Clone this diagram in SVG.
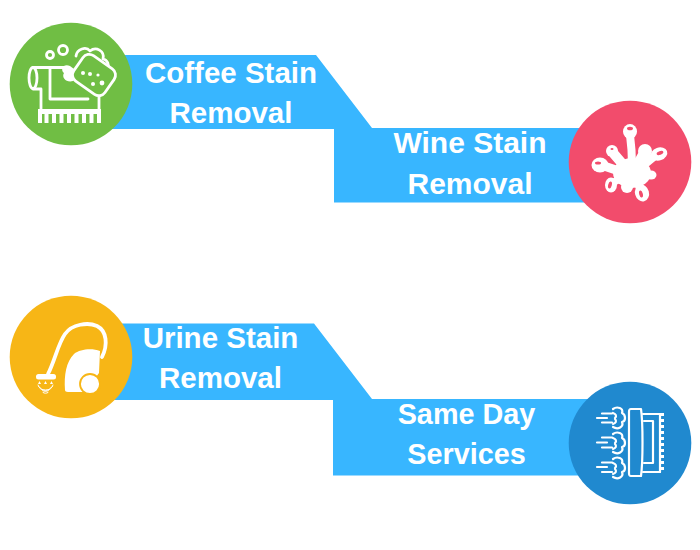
<svg xmlns="http://www.w3.org/2000/svg" width="700" height="550" viewBox="0 0 700 550">
<style>
.band{fill:#38b6ff}
.lbl{font-family:"Liberation Sans",Arial,sans-serif;font-weight:700;font-size:29.500px;fill:#fff;text-anchor:middle}
.ol{fill:none;stroke:#fff;stroke-width:2.800;stroke-linecap:round;stroke-linejoin:round}
.st{fill:none;stroke:#fff;stroke-width:2.200;stroke-linecap:round;stroke-linejoin:round}
.ot{fill:none;stroke:#fff;stroke-width:1;stroke-linecap:round}
.w{fill:#fff}
.splat{stroke:#fff;stroke-linecap:round;fill:none}
</style>
<rect width="700" height="550" fill="#fff"/>
<g id="connectors">
<path class="band" d="M120 55H316L372 128H590V202.500H334V129H100Z"/>
<path class="band" d="M120 323.500H314L372 399H590V475.500H333V400H100Z"/>
</g>
<g id="node-coffee">
<circle cx="71" cy="84" r="61.300" fill="#70be44"/>
<g class="ol">
<circle cx="50" cy="55" r="3.500"/>
<circle cx="63" cy="50" r="4.500"/>
<ellipse cx="33" cy="78" rx="4" ry="10.500"/>
<path d="M33 67.500H64M33 89H41V112M50 68V99H88M99 95V112"/>
<path d="M76 56C77 49 86 46 90 51C96 46 105 51 103 59C108 60 109 65 108 68"/>
</g>
<path class="w" d="M70 66C63 63 60 70 64 73C61 78 67 83 73 81L78 72Z"/>
<rect x="75" y="59.500" width="38" height="31" rx="7.500" transform="rotate(35 94 75)" fill="#70be44" stroke="#fff" stroke-width="2.800"/>
<path class="w" d="M38 109H101V123H97V114H93.500V123H89.500V114H86V123H82V114H78.500V123H74.500V114H71V123H67V114H63.500V123H59.500V114H56V123H52V114H48.500V123H44.500V114H42V123H38Z"/>
<g class="w"><circle cx="83" cy="73" r="2"/><circle cx="90" cy="74" r="2"/><circle cx="98" cy="75" r="1.600"/><circle cx="93" cy="84" r="2"/><circle cx="102" cy="83" r="2.400"/></g>
<text class="lbl" x="231" y="83">Coffee Stain</text>
<text class="lbl" x="231" y="123">Removal</text>
</g>
<g id="node-wine">
<circle cx="630" cy="162" r="61.300" fill="#f24c6c"/>
<g class="w">
<ellipse cx="632" cy="173" rx="19" ry="15"/>
<ellipse cx="630" cy="131.500" rx="7" ry="7.500"/>
<ellipse cx="659" cy="154" rx="8.500" ry="6.500" transform="rotate(-20 659 154)"/>
<ellipse cx="600" cy="165" rx="8.500" ry="7.500"/>
<ellipse cx="611" cy="185" rx="6" ry="7.500"/>
<ellipse cx="642" cy="193" rx="7" ry="8.500" transform="rotate(-15 642 193)"/>
<circle cx="612" cy="151" r="6"/>
<circle cx="645" cy="151" r="7"/>
<ellipse cx="651" cy="175" rx="5.500" ry="4.500"/>
<circle cx="627" cy="187" r="6"/>
</g>
<g class="splat">
<path d="M630 135Q632 150 632 165" stroke-width="8"/>
<path d="M655 156L638 170" stroke-width="8"/>
<path d="M604 166Q616 170 628 174" stroke-width="9"/>
<path d="M612 183L626 176" stroke-width="7"/>
<path d="M640 188L634 176" stroke-width="8"/>
<path d="M614 154L626 168" stroke-width="10"/>
<path d="M644 154L636 168" stroke-width="11"/>
<path d="M650 175H636" stroke-width="8"/>
</g>
<g fill="#f24c6c"><ellipse cx="630" cy="128.500" rx="3" ry="1.800"/><ellipse cx="660" cy="153" rx="3.500" ry="1.800" transform="rotate(-20 660 153)"/><ellipse cx="598" cy="163" rx="3" ry="1.500"/><ellipse cx="610" cy="185" rx="1.800" ry="3.500" transform="rotate(15 610 185)"/><ellipse cx="641" cy="194" rx="1.800" ry="3.500" transform="rotate(-15 641 194)"/><ellipse cx="612" cy="149" rx="1.500" ry="1"/></g>
<text class="lbl" x="470" y="153" style="font-size:30px">Wine Stain</text>
<text class="lbl" x="470" y="194" style="font-size:30px">Removal</text>
</g>
<g id="node-urine">
<circle cx="71" cy="357" r="61.300" fill="#f7b616"/>
<path d="M48 374C55 360 58 344 65 334C72 324 88 322 97 326C107 331 108 345 102 357" fill="none" stroke="#fff" stroke-width="3.800" stroke-linecap="round"/>
<rect x="36" y="374" width="20" height="5.500" rx="2.500" class="w"/>
<path class="w" d="M65 390C64 375 66 362 74 354C80 349 92 348 100 351L99 373L85 392L68 392C66 392 65 391 65 390Z"/>
<circle cx="90" cy="384" r="10" class="w" stroke="#f7b616" stroke-width="1.800"/>
<g class="ot"><path d="M38 385C39 392 52 392 53 385M39.500 387C41 391.500 50 391.500 51.500 387M42 390C44 392 47 392 49 390M43 392.500C44.500 393.500 46.500 393.500 48 392.500"/></g>
<g class="w"><path d="M38 384L39.500 381L41 384ZM44 384L45.500 381L47 384ZM50 384L51.500 381L53 384Z"/></g>
<text class="lbl" x="220.500" y="348">Urine Stain</text>
<text class="lbl" x="220.500" y="388">Removal</text>
</g>
<g id="node-sameday">
<circle cx="630" cy="443" r="61.300" fill="#2089cf"/>
<g class="st">
<path d="M631 409H641C643 423 643 462 641 476H631C629 476 629 475 629 473V412C629 410 629 409 631 409Z"/>
<path d="M643 414H660V472H643"/>
<path d="M644 421H653V463H644"/>
<path d="M613 409C617 406 624 408 622 413C626 415 626 421 622 422C624 427 618 430 613 427M613 413C616 414 617 416 615 418M613 424C616 423 617 421 615 419"/>
<path d="M613 434C617 431 624 433 622 438C626 440 626 446 622 447C624 452 618 455 613 452M613 438C616 439 617 441 615 443M613 449C616 448 617 446 615 444"/>
<path d="M613 459C617 456 624 458 622 463C626 465 626 471 622 472C624 477 618 480 613 477M613 463C616 464 617 466 615 468M613 474C616 473 617 471 615 469"/>
<path d="M602 413.500H612M597 418H607M602 422.500H612"/>
<path d="M602 437.500H612M597 442.500H607M602 447.500H612"/>
<path d="M602 462.500H612M597 467H607M602 472H612"/>
</g>
<path d="M660 413H664V416H661V419H664V422H661V425H664V428H661V431H664V434H661V437H664V440H661V443H664V446H661V449H664V452H661V455H664V458H661V461H664V464H661V467H664V470H661V473H660Z" class="w"/>
<text class="lbl" x="466.500" y="424" style="font-size:28.800px">Same Day</text>
<text class="lbl" x="466.500" y="464" style="font-size:28.800px">Services</text>
</g>
</svg>
